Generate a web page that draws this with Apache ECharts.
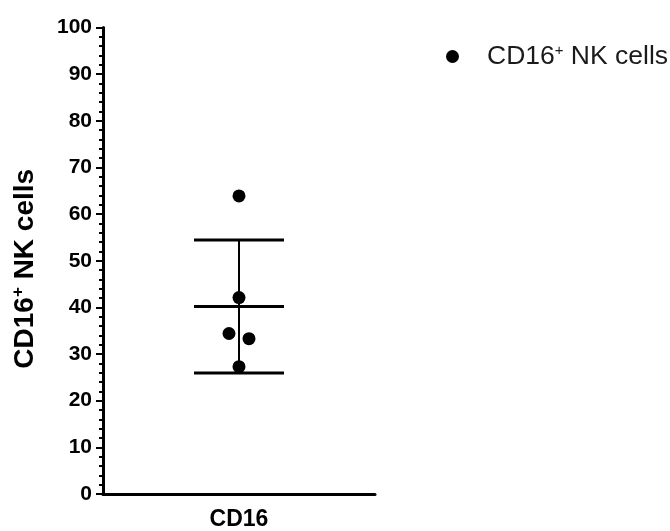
<!DOCTYPE html>
<html>
<head>
<meta charset="utf-8">
<script src="https://cdn.jsdelivr.net/npm/echarts@6/dist/echarts.min.js"></script>
<style>html,body{margin:0;padding:0;background:#fff;}#c{width:670px;height:531px;}</style>
</head>
<body>
<div id="c"></div>
<script>
var categories = ['CD16'];
var seriesName = 'CD16+ NK cells';
var values = [63.9, 42.1, 34.4, 33.3, 27.3];
var yTicks = [0, 10, 20, 30, 40, 50, 60, 70, 80, 90, 100];

// horizontal jitter of points (pixels, styling only)
var jitterPx = [0, 0, -10, 10, 0];

var n = values.length;
var mean = values.reduce(function(a, b){ return a + b; }, 0) / n;
var sd = Math.sqrt(values.reduce(function(a, b){ return a + (b - mean) * (b - mean); }, 0) / (n - 1));

var FONT = '"Liberation Sans", Arial, sans-serif';
var chart = echarts.init(document.getElementById('c'), null, {renderer: 'canvas'});

chart.setOption({
  animation: false,
  backgroundColor: '#fff',
  grid: {left: 103, right: 295, top: 27.5, bottom: 36, containLabel: false},
  legend: {
    left: 441, top: 38,
    itemWidth: 13, itemHeight: 13,
    icon: 'circle',
    data: [{name: seriesName, icon: 'circle', itemStyle: {color: '#000', opacity: 1}}],
    formatter: function(){ return 'CD16{sup|+} NK cells'; },
    textStyle: {
      fontFamily: FONT, fontSize: 26.5, color: '#1a1a1a', padding: [0, 0, 0, 23],
      rich: {sup: {fontFamily: FONT, fontSize: 15, color: '#1a1a1a', padding: [0, 0, 12, 0]}}
    }
  },
  xAxis: {
    type: 'category',
    data: categories,
    boundaryGap: true,
    axisLine: {lineStyle: {color: '#000', width: 3}},
    axisTick: {alignWithLabel: true, length: 7, lineStyle: {color: '#000', width: 2}},
    axisLabel: {fontFamily: FONT, fontSize: 23, fontWeight: 'bold', color: '#000', margin: 14}
  },
  yAxis: {
    type: 'value',
    min: 0, max: 100, interval: 10,
    name: 'CD16{sup|+} NK cells',
    nameLocation: 'middle',
    nameRotate: 90,
    nameGap: 63,
    nameTextStyle: {
      fontFamily: FONT, fontSize: 28, fontWeight: 'bold', color: '#000',
      padding: [0, 16, 0, 0],
      rich: {sup: {fontFamily: FONT, fontSize: 17, fontWeight: 'bold', color: '#000', padding: [0, 0, 13, 0]}}
    },
    axisLine: {show: true, lineStyle: {color: '#000', width: 3}},
    axisTick: {show: true, length: 7, lineStyle: {color: '#000', width: 2}},
    minorTick: {show: true, splitNumber: 5, length: 4, lineStyle: {color: '#000', width: 2}},
    splitLine: {show: false},
    axisLabel: {
      fontFamily: FONT, fontSize: 21, fontWeight: 'bold', color: '#000', margin: 11,
      formatter: function(v){ return yTicks.indexOf(v) >= 0 ? String(v) : ''; }
    }
  },
  series: [
    {
      type: 'custom',
      name: 'errorbar',
      silent: true,
      z: 2,
      renderItem: function(params, api){
        var c = api.coord([0, mean]);
        var hi = api.coord([0, mean + sd]);
        var lo = api.coord([0, mean - sd]);
        var half = 45;
        var st = {stroke: '#000', lineWidth: 3};
        return {type: 'group', children: [
          {type: 'line', shape: {x1: c[0], y1: hi[1], x2: c[0], y2: lo[1]}, style: {stroke: '#000', lineWidth: 2}},
          {type: 'line', shape: {x1: c[0] - half, y1: hi[1], x2: c[0] + half, y2: hi[1]}, style: st},
          {type: 'line', shape: {x1: c[0] - half, y1: c[1], x2: c[0] + half, y2: c[1]}, style: st},
          {type: 'line', shape: {x1: c[0] - half, y1: lo[1], x2: c[0] + half, y2: lo[1]}, style: st}
        ]};
      },
      data: [[0, mean]]
    },
    {
      type: 'scatter',
      name: seriesName,
      z: 3,
      symbol: 'circle',
      symbolSize: 13,
      itemStyle: {color: '#000', opacity: 1},
      data: values.map(function(v, i){
        return {value: [0, v], symbolOffset: [jitterPx[i], 0]};
      })
    }
  ]
});
</script>
</body>
</html>
